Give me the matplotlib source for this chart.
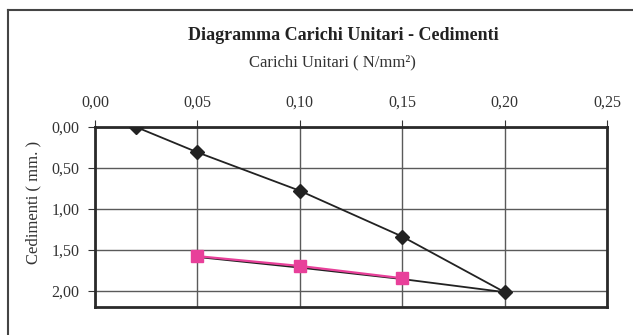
import matplotlib
matplotlib.use("Agg")
import matplotlib.pyplot as plt
from matplotlib.lines import Line2D

plt.rcParams['font.family'] = ['Liberation Serif', 'DejaVu Serif']

# loading + unloading path (N/mm2 vs mm)
carichi = [0.02, 0.05, 0.10, 0.15, 0.20, 0.15, 0.10, 0.05]
cedimenti = [0.00, 0.31, 0.78, 1.34, 2.02, 1.86, 1.72, 1.59]

# unloading branch
carichi_scarico = [0.05, 0.10, 0.15]
cedimenti_scarico = [1.58, 1.70, 1.85]

xticks = [0.00, 0.05, 0.10, 0.15, 0.20, 0.25]
yticks = [0.00, 0.50, 1.00, 1.50, 2.00]

fig = plt.figure(figsize=(6.33, 3.35), dpi=100)
ax = fig.add_axes([0.150, 0.084, 0.809, 0.537])

ax.plot(carichi[:5], cedimenti[:5], color='#222222', lw=1.3, marker='D',
        markersize=7, zorder=3)
ax.plot(carichi[4:], cedimenti[4:], color='#222222', lw=1.3, zorder=3)
ax.plot(carichi_scarico, cedimenti_scarico, color='#e8409a', lw=1.6,
        marker='s', markersize=9, zorder=4)

ax.set_xlim(0, 0.25)
ax.set_ylim(2.2, 0)
ax.set_xticks(xticks)
ax.set_yticks(yticks)
ax.set_xticklabels([f"{v:.2f}".replace('.', ',') for v in xticks])
ax.set_yticklabels([f"{v:.2f}".replace('.', ',') for v in yticks])
ax.xaxis.tick_top()
ax.tick_params(axis='x', direction='out', length=5, pad=7, labelsize=11.5,
               color='#333333', labelcolor='#333333')
ax.tick_params(axis='y', direction='out', length=5, pad=6, labelsize=11.5,
               color='#333333', labelcolor='#333333')
ax.grid(True, color='#5a5a5a', lw=1)
ax.set_axisbelow(True)
for s in ax.spines.values():
    s.set_linewidth(2)
    s.set_color('#2a2a2a')

ax.set_ylabel('Cedimenti ( mm. )', fontsize=12, color='#333333')
ax.yaxis.set_label_coords(-0.105, 0.58)

fig.text(0.542, 0.895, 'Diagramma Carichi Unitari - Cedimenti', ha='center',
         va='center', fontsize=13, fontweight='bold', color='#222222')
fig.text(0.525, 0.813, 'Carichi Unitari ( N/mm²)', ha='center', va='center',
         fontsize=12, color='#333333')

# outer frame
fig.add_artist(Line2D([0.013, 1.0], [0.970, 0.970], color='#444444', lw=1.5,
                      transform=fig.transFigure))
fig.add_artist(Line2D([0.013, 0.013], [0.0, 0.970], color='#444444', lw=1.5,
                      transform=fig.transFigure))

fig.savefig('out.png', dpi=100)
